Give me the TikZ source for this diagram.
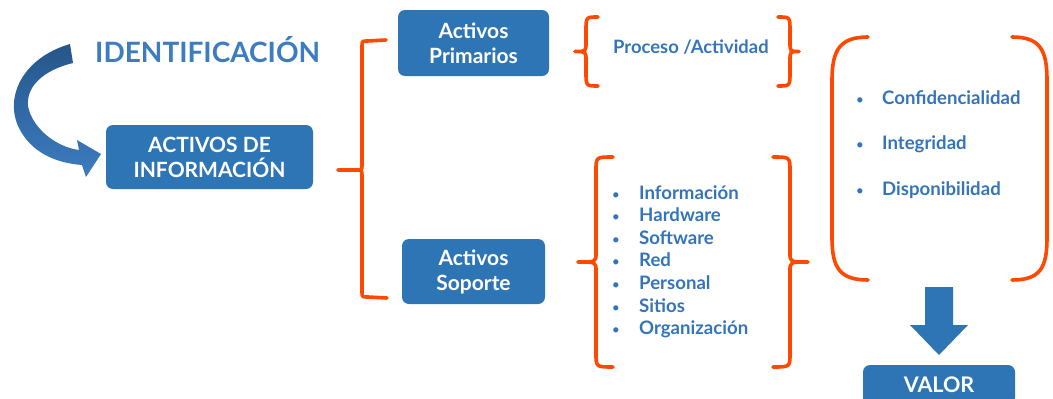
\documentclass[tikz,border=0pt]{standalone}
\usepackage{fontspec}
\setmainfont{Lato}
\definecolor{boxblue}{RGB}{46,117,182}
\definecolor{txtblue}{RGB}{53,116,186}
\definecolor{headblue}{RGB}{62,124,192}
\definecolor{brcorange}{RGB}{255,72,0}
\definecolor{arrowdark}{RGB}{38,86,138}
\definecolor{arrowlight}{RGB}{60,124,192}

% curly brace: tip x, stem x, end x, top y, bottom y
\newcommand{\curly}[5]{%
  \pgfmathsetmacro\brcmid{(#4+#5)/2}%
  \draw[brc] (#3,#4) .. controls (#2,#4) .. (#2,#4+14)
    -- (#2,\brcmid-9) .. controls (#2,\brcmid) .. (#1,\brcmid)
    .. controls (#2,\brcmid) .. (#2,\brcmid+9)
    -- (#2,#5-14) .. controls (#2,#5) .. (#3,#5);%
}

\begin{document}
\begin{tikzpicture}[x=1pt,y=-1pt,
  box/.style={fill=boxblue, rounded corners=7pt, text=white, align=center,
    inner sep=0pt, font=\bfseries\fontsize{21}{25}\selectfont},
  lbl/.style={text=txtblue, anchor=base west, inner sep=0pt,
    font=\bfseries\fontsize{18.6}{22}\selectfont},
  dot/.style={text=txtblue, anchor=base, inner sep=0pt,
    font=\fontsize{14}{20}\selectfont},
  brc/.style={draw=brcorange, line width=3.6pt, line cap=round, line join=round}]

\useasboundingbox (0,0) rectangle (1053,399);
\clip (0,0) rectangle (1053,399);

% title
\node[anchor=base west, inner sep=0pt, text=headblue,
  font=\bfseries\fontsize{28}{34}\selectfont] (ident) at (95,62) {IDENTIFICACIÓN};

% curved arrow from the title down to the information assets
\shade[top color=arrowdark, bottom color=arrowlight]
  (70,44) .. controls (22,58) and (4,98) .. (19,128)
  .. controls (31,152) and (55,163) .. (82,165)
  -- (86,177) -- (101,154) -- (77,140) -- (79,150)
  .. controls (56,147) and (32,128) .. (28,106)
  .. controls (26,86) and (44,70) .. (73,63) -- cycle;

% boxes
\node[box, minimum width=207, minimum height=64] (info) at (209.5,157) {ACTIVOS DE\\INFORMACIÓN};
\node[box, minimum width=151, minimum height=66] (prim) at (473.5,43) {Activos\\Primarios};
\node[box, minimum width=143, minimum height=65] (sop) at (473.5,271.5) {Activos\\Soporte};
\node[box, minimum width=152, minimum height=40, font=\bfseries\fontsize{21.5}{24}\selectfont] (valor) at (939,385) {VALOR};

% big bracket joining the two asset groups
\draw[brc] (386,40) -- (367,41) .. controls (362,41) .. (362,47)
  -- (362,165) .. controls (362,170) .. (355,170) -- (338,170)
  -- (355,170) .. controls (362,170) .. (362,176)
  -- (362,292) .. controls (362,297) .. (368,297) -- (387,298);

% primary assets
\curly{575}{586}{598}{17}{86}
\curly{799}{790}{778}{17}{86}
\node[lbl, font=\bfseries\fontsize{18.4}{22}\selectfont] (proc) at (613,53) {Proceso /Actividad};

% support assets
\curly{578}{596}{613}{157}{367}
\curly{808}{790}{773}{157}{367}
\foreach \t [count=\i] in {Información, Hardware, Software, Red, Personal, Sitios, Organización}{
  \node[dot] (sopb\i) at (616,199+22.6*\i-22.6) {•};
  \node[lbl] (sopt\i) at (639,199+22.6*\i-22.6) {\t};
}

% security dimensions
\draw[brc] (868,37) .. controls (840,37) and (832,50) .. (832,80)
  -- (832,238) .. controls (832,268) and (840,280) .. (868,280);
\draw[brc] (1012,37) .. controls (1040,37) and (1047,50) .. (1047,80)
  -- (1047,238) .. controls (1047,268) and (1040,280) .. (1012,280);
\foreach \t [count=\i] in {Confidencialidad, Integridad, Disponibilidad}{
  \node[dot] (dimb\i) at (860,104+45.5*\i-45.5) {•};
  \node[lbl] (dimt\i) at (882,104+45.5*\i-45.5) {\t};
}

% arrow to value
\fill[boxblue] (925,287) -- (953,287) -- (953,325) -- (968,325) -- (939,355)
  -- (910,325) -- (925,325) -- cycle;
\end{tikzpicture}
\end{document}
